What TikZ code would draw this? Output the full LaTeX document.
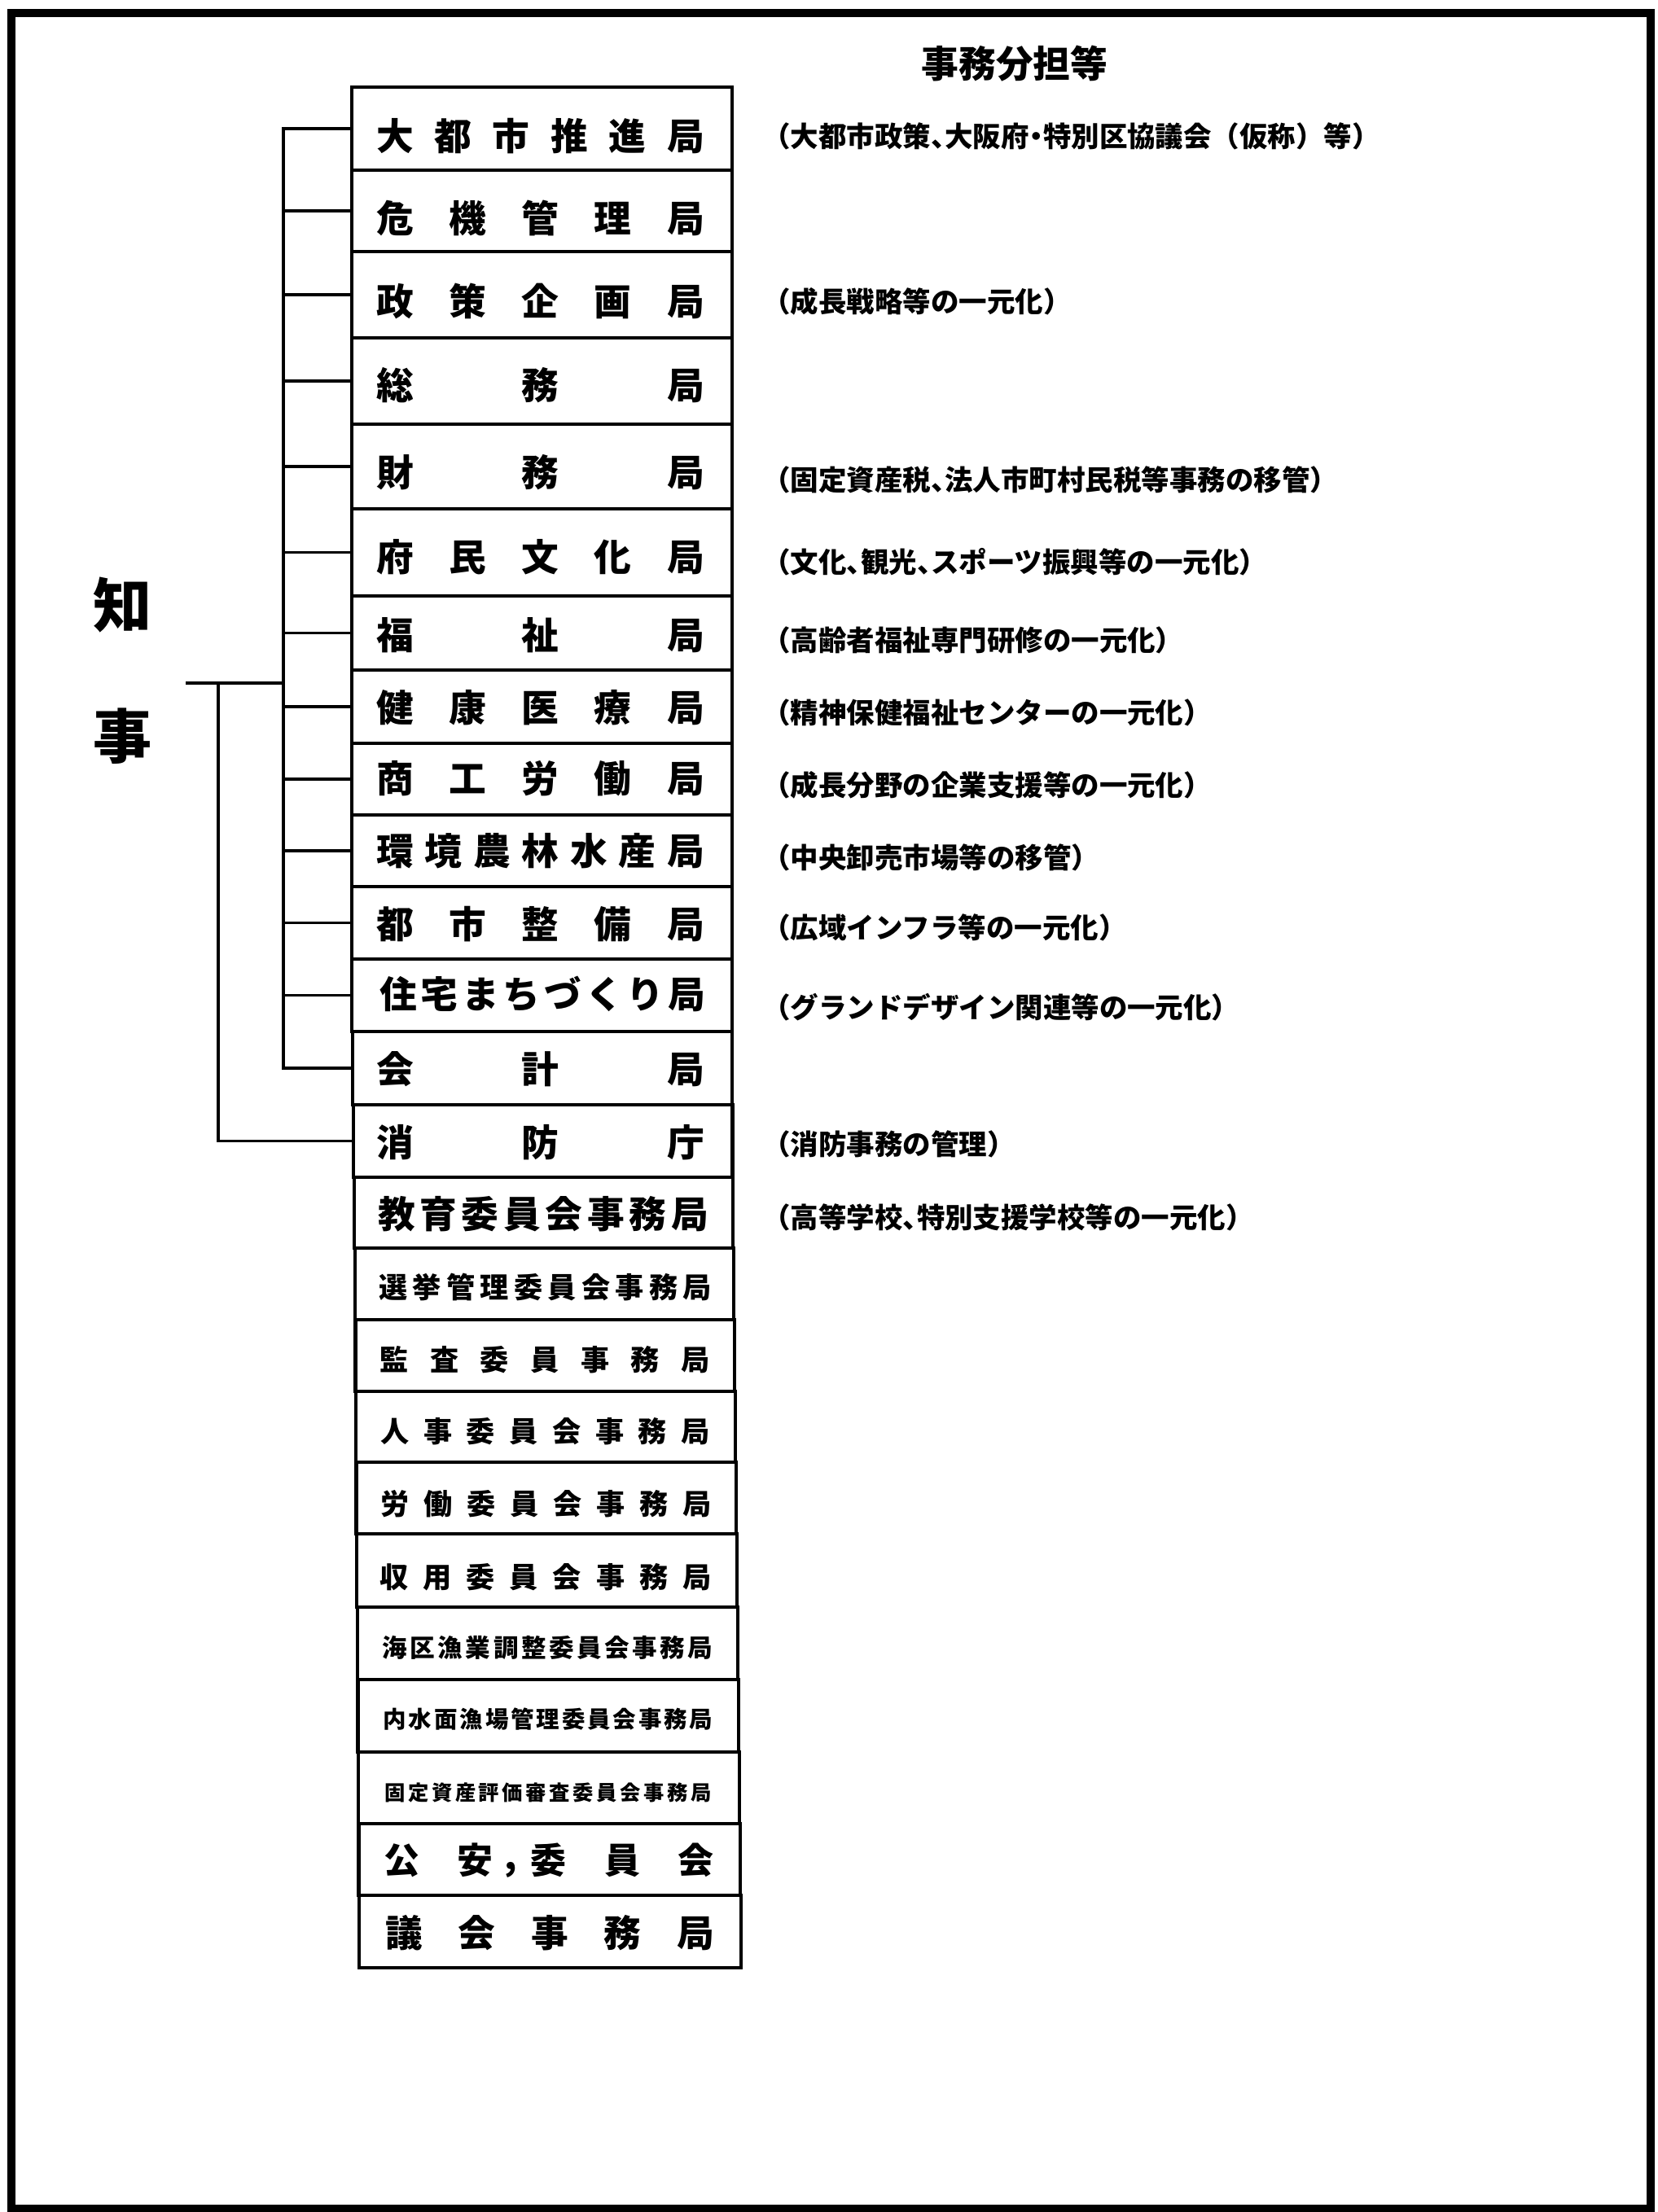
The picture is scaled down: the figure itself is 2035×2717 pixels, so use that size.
\documentclass[tikz,border=0pt]{standalone}
\usepackage{fontspec}
\usetikzlibrary{fit}
\newfontfamily\jp{Noto Sans CJK JP}
\newfontfamily\jph{Noto Sans CJK JP}[RawFeature=+halt]
\def\jsploop#1{\ifx#1\relax\else\hfill#1\expandafter\jsploop\fi}
\def\jspfirst#1{#1\jsploop}
\newcommand\jspread[1]{\jspfirst#1\relax}
\tikzset{
  rowbox/.style={draw, line width=1.15pt, inner sep=0pt},
  rowtxt/.style={inner sep=0pt, anchor=center, font=\jp\bfseries},
  anno/.style={inner sep=0pt, anchor=west, font=\jph\bfseries\fontsize{9.8pt}{9.8pt}\selectfont},
  conn/.style={line width=1pt},
}
\newcommand\rowbox[5]{\node[rowbox, fit={(#2,#3) (#4,#5)}] (#1) {};}
\newcommand\rowtext[6]{\node[rowtxt] (#1) at (#2,#3) {\fontsize{#5pt}{#5pt}\selectfont\hbox to #4cm{\jspread{#6}}};}
\begin{document}
\begin{tikzpicture}[x=0.01cm,y=-0.01cm]
\useasboundingbox (0,0) rectangle (2035,2717);
\fill[white] (0,0) rectangle (2035,2717);
% outer frame
\draw[line width=3pt] (14,16) rectangle (2027,2713);

% header
\node[inner sep=0pt, font=\jp\bfseries\fontsize{13pt}{13pt}\selectfont] (hdr) at (1246,78) {事務分担等};
% governor
\node[inner sep=0pt, font=\jp\bfseries\fontsize{20.5pt}{20.5pt}\selectfont] (k1) at (151,743) {知};
\node[inner sep=0pt, font=\jp\bfseries\fontsize{20.5pt}{20.5pt}\selectfont] (k2) at (151,904) {事};

% row boxes
\rowbox{r1}{432}{107}{899}{209}
\rowbox{r2}{432}{209}{899}{309}
\rowbox{r3}{432}{309}{899}{415}
\rowbox{r4}{432}{415}{899}{521}
\rowbox{r5}{432}{521}{899}{625}
\rowbox{r6}{432}{625}{899}{732}
\rowbox{r7}{432}{732}{899}{823}
\rowbox{r8}{432}{823}{899}{913}
\rowbox{r9}{432}{913}{899}{1001}
\rowbox{r10}{432}{1001}{899}{1089}
\rowbox{r11}{432}{1089}{899}{1178}
\rowbox{r12}{432}{1178}{899}{1267}
\rowbox{r13}{433}{1267}{899}{1357}
\rowbox{r14}{434}{1357}{899.5}{1446}
\rowbox{r15}{435}{1446}{900}{1533}
\rowbox{r16}{436}{1533}{901}{1621}
\rowbox{r17}{436.5}{1621}{902}{1709}
\rowbox{r18}{437}{1709}{903}{1796}
\rowbox{r19}{437.5}{1796}{904}{1884}
\rowbox{r20}{438}{1884}{905}{1974}
\rowbox{r21}{439}{1974}{906}{2063}
\rowbox{r22}{439.5}{2063}{907}{2152}
\rowbox{r23}{440}{2152}{908}{2240}
\rowbox{r24}{440.5}{2240}{909}{2328}
\rowbox{r25}{441}{2328}{910}{2417}

% row texts
\rowtext{t1}{663.5}{167}{4.027}{13}{大都市推進局}
\rowtext{t2}{663.5}{268}{4.027}{13}{危機管理局}
\rowtext{t3}{663.5}{370}{4.027}{13}{政策企画局}
\rowtext{t4}{663.5}{473}{4.027}{13}{総務局}
\rowtext{t5}{663.5}{580}{4.027}{13}{財務局}
\rowtext{t6}{663.5}{684}{4.027}{13}{府民文化局}
\rowtext{t7}{663.5}{780}{4.027}{13}{福祉局}
\rowtext{t8}{663.5}{869}{4.027}{13}{健康医療局}
\rowtext{t9}{663.5}{956}{4.027}{13}{商工労働局}
\rowtext{t10}{663.5}{1045}{4.027}{13}{環境農林水産局}
\rowtext{t11}{663.5}{1135}{4.027}{13}{都市整備局}
\rowtext{t12}{666}{1221}{3.997}{13}{住宅まちづくり局}
\rowtext{t13}{663.5}{1313}{4.027}{13}{会計局}
\rowtext{t14}{663.5}{1403}{4.027}{13}{消防庁}
\rowtext{t15}{667}{1491}{4.057}{13}{教育委員会事務局}
\rowtext{t16}{669.5}{1581}{4.081}{10}{選挙管理委員会事務局}
\rowtext{t17}{669}{1670}{4.051}{10}{監査委員事務局}
\rowtext{t18}{669.5}{1758}{4.041}{10}{人事委員会事務局}
\rowtext{t19}{670.5}{1847}{4.061}{10}{労働委員会事務局}
\rowtext{t20}{670}{1937}{4.071}{10}{収用委員会事務局}
\rowtext{t21}{672.5}{2024}{4.056}{8.7}{海区漁業調整委員会事務局}
\rowtext{t22}{673}{2112}{4.045}{8.1}{内水面漁場管理委員会事務局}
\rowtext{t23}{673}{2202}{4.013}{7.2}{固定資産評価審査委員会事務局}
\rowtext{t24}{674}{2285}{4.039}{12.5}{公安委員会}
\rowtext{t25}{675}{2374}{4.037}{13}{議会事務局}
\node[inner sep=0pt, font=\jp\bfseries\fontsize{12.5pt}{12.5pt}\selectfont] (cm) at (627,2297) {,};

% annotations
\node[anno] (a1) at (953,167) {（大都市政策、大阪府・特別区協議会{\jp\bfseries （仮称）}等）};
\node[anno] (a3) at (953,370) {（成長戦略等の一元化）};
\node[anno] (a5) at (953,589) {（固定資産税、法人市町村民税等事務の移管）};
\node[anno] (a6) at (953,690) {（文化、観光、スポーツ振興等の一元化）};
\node[anno] (a7) at (953,786) {（高齢者福祉専門研修の一元化）};
\node[anno] (a8) at (953,875) {（精神保健福祉センターの一元化）};
\node[anno] (a9) at (953,964) {（成長分野の企業支援等の一元化）};
\node[anno] (a10) at (953,1053) {（中央卸売市場等の移管）};
\node[anno] (a11) at (953,1139) {（広域インフラ等の一元化）};
\node[anno] (a12) at (953,1237) {（グランドデザイン関連等の一元化）};
\node[anno] (a14) at (953,1405) {（消防事務の管理）};
\node[anno] (a15) at (953,1495) {（高等学校、特別支援学校等の一元化）};

% connectors
\coordinate (bus) at (348,0);
\coordinate (gov) at (228,839);
\coordinate (v2) at (268,839);
\draw[conn] (r1.west) -- (r1.west -| bus) -- (r13.west -| bus) -- (r13.west);
\foreach \i in {2,...,12} \draw[conn] (r\i.west) -- (r\i.west -| bus);
\draw[conn] (gov) -- (gov -| bus);
\draw[conn] (v2) |- (r14.west);
\end{tikzpicture}
\end{document}
